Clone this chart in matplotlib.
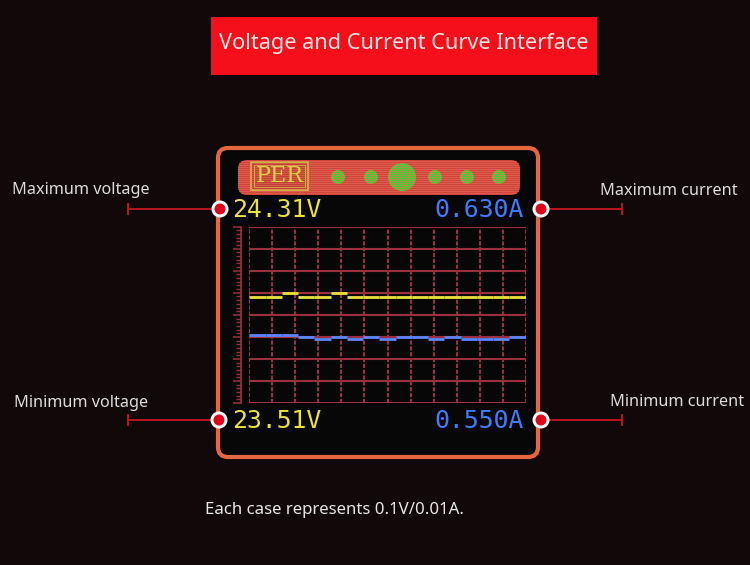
import matplotlib
matplotlib.use('Agg')
import matplotlib.pyplot as plt
import numpy as np
from matplotlib.patches import FancyBboxPatch, Circle, Rectangle
from matplotlib.ticker import AutoMinorLocator

# readings shown on the meter screen
v_max, v_min = 24.31, 23.51
i_max, i_min = 0.630, 0.550
volts = [23.99, 23.99, 24.01, 23.99, 23.99, 24.01, 23.99, 23.99, 23.99,
         23.99, 23.99, 23.99, 23.99, 23.99, 23.99, 23.99, 23.99]
amps = [0.581, 0.581, 0.581, 0.580, 0.579, 0.580, 0.579, 0.580, 0.579,
        0.580, 0.580, 0.579, 0.580, 0.579, 0.579, 0.579, 0.580]

title = 'Voltage and Current Curve Interface'
footnote = 'Each case represents 0.1V/0.01A.'
callout_labels = ['Maximum voltage', 'Minimum voltage',
                  'Maximum current', 'Minimum current']

BG = '#110909'
GRID = '#9a2f3f'
YELLOW = '#ece23c'
BLUE = '#3f7bff'

fig = plt.figure(figsize=(7.5, 5.65), dpi=100, facecolor=BG)

# background layer in pixel coordinates
bg = fig.add_axes([0, 0, 1, 1])
bg.set_xlim(0, 750)
bg.set_ylim(565, 0)
bg.axis('off')

bg.add_patch(Rectangle((211, 17), 386, 58, fc='#f40f1a', ec='none'))
bg.text(404, 44, title, ha='center', va='center', color='#ffe6e6',
        fontsize=15.6, family='Noto Sans')

# meter body
bg.add_patch(FancyBboxPatch((218, 148), 320, 309,
                            boxstyle='round,pad=0,rounding_size=10',
                            fc='#070707', ec='#e6673f', lw=3))

# status bar with scanlines
bar = FancyBboxPatch((238, 160), 282, 35,
                     boxstyle='round,pad=0,rounding_size=9',
                     fc='#d0443a', ec='none')
bg.add_patch(bar)
for yy in np.arange(161, 195, 2.0):
    ln, = bg.plot([238, 520], [yy, yy], color='#ea7560', lw=0.6, alpha=0.6)
    ln.set_clip_path(bar)
bg.add_patch(Rectangle((251, 162), 57, 28, fc='#c24038', ec='#c9c23a', lw=1.3))
bg.add_patch(Rectangle((254, 165), 51, 22, fc='none', ec='#c9c23a', lw=0.7))
bg.text(279.5, 176.5, 'PER', ha='center', va='center', color='#d8d040',
        fontsize=16, family='DejaVu Serif')
for cx, r in zip([338, 371, 402, 435, 467, 499], [7, 7, 14, 7, 7, 7]):
    bg.add_patch(Circle((cx, 177), r, fc='#52c62e', ec='none'))

# min / max readouts
mono = dict(family='DejaVu Sans Mono', fontsize=17.8, va='center')
bg.text(232, 210, f'{v_max:.2f}V', ha='left', color=YELLOW, **mono)
bg.text(524, 210, f'{i_max:.3f}A', ha='right', color=BLUE, **mono)
bg.text(232, 421, f'{v_min:.2f}V', ha='left', color=YELLOW, **mono)
bg.text(524, 421, f'{i_min:.3f}A', ha='right', color=BLUE, **mono)

# callouts
text_xy = [(12, 190), (14, 403), (600, 191), (610, 402)]
dot_xy = [(220, 209), (219, 420), (541, 209), (541, 420)]
end_x = [128, 128, 622, 622]
for lab, (tx, ty), (dx, dy), ex in zip(callout_labels, text_xy, dot_xy, end_x):
    bg.text(tx, ty, lab, ha='left', va='center', color='#dcdcdc',
            fontsize=11.7, family='Noto Sans')
    bg.plot([ex, dx], [dy, dy], color='#bb151d', lw=1.4)
    bg.plot([ex, ex], [dy - 5, dy + 5], color='#bb151d', lw=1.4)
    bg.add_patch(Circle((dx, dy), 8.5, fc='white', ec='none', zorder=5))
    bg.add_patch(Circle((dx, dy), 5.5, fc='#e0061a', ec='none', zorder=6))

bg.text(205, 510, footnote, ha='left', va='center', color='#e6e6e6',
        fontsize=12.1, family='Noto Sans')

# curve area
ax = fig.add_axes([249.3 / 750, 1 - 403 / 565, 276.4 / 750, 176.3 / 565])
ax.set_facecolor('none')
x = np.arange(len(volts))
ax.set_xlim(0, len(volts))
ax.set_ylim(v_min, v_max)
ax.set_xticks(np.linspace(0, len(volts), 13))
ax.set_yticks(np.linspace(v_min, v_max, 9))
ax.yaxis.set_minor_locator(AutoMinorLocator(6))
ax.xaxis.grid(True, color=GRID, lw=1.5, ls=(0, (2, 0.8)))
ax.yaxis.grid(True, color=GRID, lw=1.5)
ax.tick_params(axis='x', length=0, labelbottom=False)
ax.tick_params(axis='y', which='major', direction='out', length=6,
               width=1.1, color=GRID, labelleft=False)
ax.tick_params(axis='y', which='minor', direction='out', length=3.5,
               width=1.0, color=GRID)
for side in ['top', 'right', 'bottom']:
    ax.spines[side].set_visible(False)
ax.spines['left'].set_position(('outward', 6))
ax.spines['left'].set_color(GRID)
ax.spines['left'].set_linewidth(1.2)
ax.hlines(volts, x, x + 1, color=YELLOW, lw=2, zorder=3)

ax2 = ax.twinx()
ax2.set_ylim(i_min, i_max)
ax2.axis('off')
ax2.hlines(amps, x, x + 1, color='#5c86ff', lw=2, zorder=3)

fig.savefig('out.png', dpi=100, facecolor=BG)
